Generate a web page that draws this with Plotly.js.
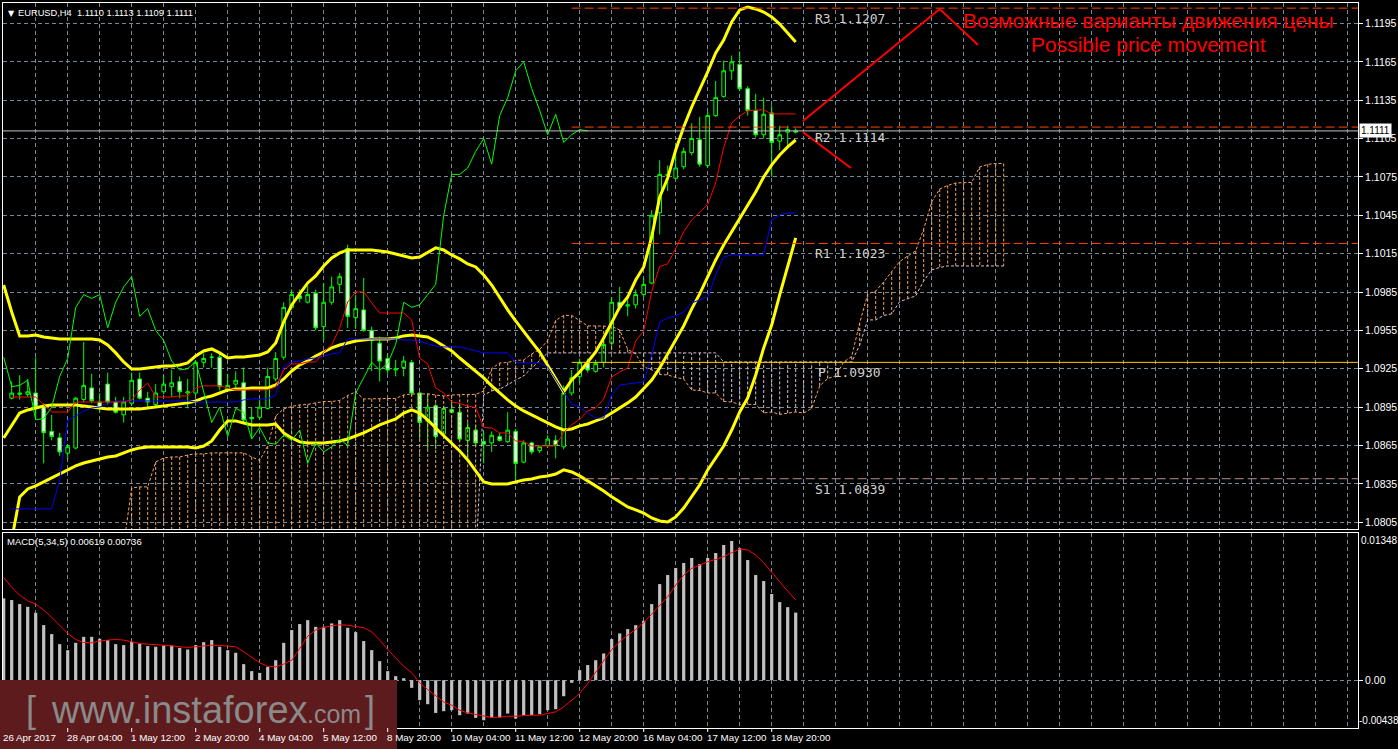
<!DOCTYPE html>
<html><head><meta charset="utf-8">
<script src="https://cdn.plot.ly/plotly-3.0.1.min.js"></script>
<style>html,body{margin:0;padding:0;background:#000;overflow:hidden}#chart{width:1398px;height:749px}</style>
</head><body><div id="chart"></div>
<script>
// ---------- DATA ----------
const tickIdx = [-1,7,15,23,31,39,47,55,63,71,79,87,95];
const tickLabels = ['26 Apr 2017','28 Apr 04:00','1 May 12:00','2 May 20:00','4 May 04:00','5 May 12:00','8 May 20:00','10 May 04:00','11 May 12:00','12 May 20:00','16 May 04:00','17 May 12:00','18 May 20:00'];
const priceTicks = [1.0805,1.0835,1.0865,1.0895,1.0925,1.0955,1.0985,1.1015,1.1045,1.1075,1.1105,1.1135,1.1165,1.1195];

// EURUSD H4 candles, bar 0 = 27 Apr 00:00
const open = [1.0902,1.0905,1.0905,1.0906,1.0895,1.0876,1.0871,1.0859,1.0863,1.0901,
1.0910,1.0899,1.0913,1.0899,1.0889,1.0898,1.0917,1.0902,1.0897,1.0907,
1.0911,1.0915,1.0906,1.0906,1.0930,1.0934,1.0934,1.0909,1.0913,1.0914,
1.0887,1.0887,1.0894,1.0917,1.0934,1.0973,1.0982,1.0977,1.0984,1.0958,
1.0977,1.0991,1.1019,1.0965,1.0971,1.0955,1.0945,1.0933,1.0924,1.0926,
1.0930,1.0906,1.0884,1.0896,1.0874,1.0893,1.0891,1.0869,1.0877,1.0868,
1.0867,1.0872,1.0868,1.0876,1.0852,1.0867,1.0861,1.0865,1.0869,1.0864,
1.0906,1.0919,1.0930,1.0923,1.0930,1.0945,1.0977,1.0974,1.0975,1.0983,
1.0992,1.1047,1.1076,1.1074,1.1083,1.1094,1.1104,1.1084,1.1123,1.1138,
1.1158,1.1163,1.1144,1.1127,1.1108,1.1125,1.1103,1.1110,1.1110];
const high = [1.0915,1.0920,1.0917,1.0934,1.0898,1.0889,1.0875,1.0866,1.0903,1.0946,
1.0921,1.0906,1.0922,1.0903,1.0903,1.0922,1.0922,1.0907,1.0913,1.0920,
1.0924,1.0919,1.0917,1.0931,1.0937,1.0937,1.0938,1.0921,1.0923,1.0926,
1.0895,1.0901,1.0926,1.0938,1.0977,1.0987,1.0987,1.0990,1.0987,1.0992,
1.0997,1.1000,1.1022,1.0983,1.0996,1.0958,1.0950,1.0937,1.0932,1.0935,
1.0932,1.0907,1.0906,1.0898,1.0896,1.0899,1.0898,1.0883,1.0881,1.0876,
1.0876,1.0875,1.0891,1.0878,1.0869,1.0868,1.0865,1.0873,1.0873,1.0912,
1.0924,1.0933,1.0933,1.0932,1.0947,1.0981,1.0989,1.0981,1.0987,1.0996,
1.1049,1.1088,1.1084,1.1095,1.1098,1.1117,1.1122,1.1126,1.1150,1.1166,
1.1170,1.1173,1.1146,1.1140,1.1137,1.1131,1.1115,1.1115,1.1113];
const low = [1.0901,1.0901,1.0903,1.0886,1.0851,1.0869,1.0857,1.0854,1.0862,1.0899,
1.0898,1.0891,1.0897,1.0890,1.0883,1.0896,1.0901,1.0894,1.0895,1.0905,
1.0903,1.0902,1.0894,1.0904,1.0926,1.0926,1.0908,1.0907,1.0910,1.0883,
1.0871,1.0885,1.0893,1.0915,1.0932,1.0971,1.0977,1.0976,1.0955,1.0947,
1.0975,1.0984,1.0957,1.0957,1.0954,1.0923,1.0915,1.0921,1.0919,1.0919,
1.0904,1.0871,1.0862,1.0862,1.0872,1.0890,1.0868,1.0853,1.0864,1.0851,
1.0860,1.0868,1.0867,1.0838,1.0851,1.0858,1.0859,1.0863,1.0855,1.0862,
1.0904,1.0914,1.0922,1.0922,1.0926,1.0943,1.0971,1.0966,1.0972,1.0981,
1.0991,1.1030,1.1064,1.1073,1.1081,1.1092,1.1083,1.1082,1.1122,1.1137,
1.1151,1.1142,1.1123,1.1106,1.1105,1.1075,1.1096,1.1099,1.1109];
const close = [1.0906,1.0906,1.0907,1.0895,1.0875,1.0872,1.0860,1.0864,1.0902,1.0912,
1.0900,1.0894,1.0899,1.0891,1.0899,1.0916,1.0902,1.0899,1.0906,1.0913,
1.0914,1.0907,1.0907,1.0930,1.0933,1.0934,1.0911,1.0912,1.0916,1.0885,
1.0886,1.0895,1.0919,1.0933,1.0973,1.0983,1.0980,1.0983,1.0957,1.0977,
1.0989,1.0997,1.0966,1.0972,1.0955,1.0947,1.0931,1.0924,1.0925,1.0931,
1.0906,1.0883,1.0895,1.0872,1.0894,1.0891,1.0870,1.0879,1.0867,1.0866,
1.0873,1.0869,1.0877,1.0851,1.0867,1.0860,1.0864,1.0870,1.0865,1.0906,
1.0918,1.0930,1.0924,1.0929,1.0944,1.0977,1.0973,1.0975,1.0983,1.0991,
1.1045,1.1077,1.1077,1.1082,1.1095,1.1105,1.1085,1.1123,1.1137,1.1158,
1.1165,1.1144,1.1127,1.1108,1.1124,1.1102,1.1108,1.1112,1.1111];

// Bollinger Bands, starting at bar -1
const bbUpper = [1.09905,1.09694,1.09507,1.09507,1.09514,1.09499,1.09491,1.09483,1.09483,1.09483,
1.09483,1.09483,1.09475,1.09436,1.09374,1.09303,1.09248,1.09248,1.09256,1.09264,
1.09272,1.09272,1.09280,1.09295,1.09350,1.09389,1.09405,1.09374,1.09334,1.09342,
1.09342,1.09350,1.09358,1.09381,1.09452,1.09616,1.09749,1.09835,1.09921,1.09976,
1.10054,1.10116,1.10156,1.10179,1.10179,1.10179,1.10179,1.10171,1.10163,1.10148,
1.10132,1.10116,1.10124,1.10163,1.10195,1.10179,1.10140,1.10109,1.10070,1.10046,
1.09984,1.09905,1.09804,1.09710,1.09624,1.09538,1.09460,1.09381,1.09280,1.09178,
1.09069,1.09162,1.09225,1.09303,1.09381,1.09491,1.09608,1.09733,1.09811,1.09944,
1.10046,1.10281,1.10593,1.10742,1.10961,1.11141,1.11297,1.11430,1.11571,1.11720,
1.11821,1.11962,1.12056,1.12079,1.12064,1.12040,1.12001,1.11946,1.11876,1.11806];
const bbMiddle = [1.08709,1.08811,1.08904,1.08928,1.08943,1.08959,1.08967,1.08967,1.08967,1.08967,
1.08959,1.08951,1.08943,1.08936,1.08936,1.08936,1.08936,1.08936,1.08943,1.08951,
1.08959,1.08967,1.08975,1.08983,1.08998,1.09022,1.09037,1.09061,1.09084,1.09092,
1.09092,1.09100,1.09100,1.09100,1.09123,1.09170,1.09233,1.09280,1.09311,1.09350,
1.09381,1.09413,1.09436,1.09452,1.09467,1.09475,1.09483,1.09483,1.09483,1.09491,
1.09507,1.09514,1.09507,1.09499,1.09467,1.09428,1.09389,1.09334,1.09280,1.09233,
1.09178,1.09116,1.09061,1.09006,1.08959,1.08920,1.08889,1.08857,1.08826,1.08795,
1.08771,1.08779,1.08803,1.08818,1.08842,1.08865,1.08904,1.08943,1.08983,1.09029,
1.09092,1.09162,1.09256,1.09366,1.09475,1.09585,1.09718,1.09835,1.09968,1.10101,
1.10218,1.10320,1.10421,1.10531,1.10633,1.10750,1.10844,1.10922,1.10985,1.11039];
const bbLower = [1.07755,1.07911,1.08248,1.08310,1.08334,1.08365,1.08396,1.08427,1.08459,1.08490,
1.08513,1.08529,1.08545,1.08560,1.08568,1.08592,1.08615,1.08631,1.08638,1.08638,
1.08638,1.08638,1.08638,1.08638,1.08631,1.08646,1.08685,1.08771,1.08842,1.08842,
1.08826,1.08811,1.08811,1.08811,1.08818,1.08748,1.08709,1.08678,1.08670,1.08670,
1.08670,1.08678,1.08685,1.08701,1.08725,1.08748,1.08779,1.08811,1.08834,1.08857,
1.08904,1.08928,1.08904,1.08850,1.08787,1.08725,1.08670,1.08607,1.08537,1.08451,
1.08365,1.08349,1.08349,1.08349,1.08365,1.08380,1.08388,1.08404,1.08412,1.08427,
1.08459,1.08443,1.08412,1.08373,1.08334,1.08294,1.08248,1.08208,1.08169,1.08146,
1.08122,1.08083,1.08060,1.08052,1.08091,1.08161,1.08248,1.08341,1.08459,1.08552,
1.08646,1.08771,1.08912,1.09022,1.09201,1.09413,1.09592,1.09827,1.10054,1.10273];

// Ichimoku, starting at bar 0
const tenkan = [1.09029,1.09029,1.09029,1.09029,1.08967,1.08912,1.08912,1.08912,1.08990,1.08990,
1.08990,1.08990,1.08990,1.08990,1.08990,1.09006,1.09084,1.09139,1.09029,1.09029,
1.09029,1.09037,1.09037,1.09100,1.09116,1.09116,1.09116,1.09100,1.09084,1.09084,
1.09084,1.09084,1.09084,1.09108,1.09241,1.09288,1.09288,1.09303,1.09303,1.09381,
1.09436,1.09569,1.09772,1.09851,1.09851,1.09765,1.09686,1.09686,1.09686,1.09686,
1.09632,1.09334,1.09288,1.09100,1.09061,1.08990,1.08979,1.08959,1.08947,1.08791,
1.08787,1.08748,1.08748,1.08685,1.08681,1.08646,1.08646,1.08646,1.08646,1.08752,
1.08811,1.08857,1.08920,1.08943,1.09014,1.09186,1.09225,1.09256,1.09467,1.09546,
1.09854,1.10050,1.10070,1.10191,1.10320,1.10414,1.10471,1.10535,1.10703,1.10981,
1.11172,1.11227,1.11266,1.11274,1.11274,1.11243,1.11243,1.11243,1.11243];
const kijun = [1.08154,1.08154,1.08154,1.08154,1.08154,1.08154,1.08380,1.08850,1.08881,1.08920,
1.08943,1.08951,1.08975,1.08998,1.08998,1.08998,1.08998,1.08998,1.08998,1.08998,
1.08998,1.08998,1.08998,1.08990,1.08990,1.08990,1.08990,1.08990,1.08990,1.09006,
1.09014,1.09014,1.09014,1.09045,1.09264,1.09303,1.09311,1.09327,1.09334,1.09350,
1.09366,1.09374,1.09483,1.09483,1.09483,1.09483,1.09483,1.09483,1.09483,1.09475,
1.09475,1.09467,1.09444,1.09428,1.09421,1.09421,1.09421,1.09405,1.09389,1.09374,
1.09374,1.09374,1.09374,1.09303,1.09295,1.09295,1.09295,1.09264,1.09162,1.09069,
1.08975,1.08951,1.08904,1.08865,1.08865,1.09045,1.09123,1.09131,1.09139,1.09147,
1.09358,1.09616,1.09647,1.09663,1.09694,1.09765,1.09788,1.09811,1.09984,1.10124,
1.10140,1.10140,1.10140,1.10140,1.10140,1.10414,1.10453,1.10468,1.10468];
// Senkou spans, starting at bar 14 (drawn 26 bars ahead)
const senkouA = [1.07872,1.08318,1.08326,1.08326,1.08521,1.08552,1.08560,1.08560,1.08576,1.08584,
1.08584,1.08592,1.08592,1.08592,1.08592,1.08592,1.08560,1.08533,1.08646,1.08881,
1.08936,1.08955,1.08967,1.08971,1.08983,1.08994,1.08994,1.09002,1.09041,1.09069,
1.09014,1.09014,1.09014,1.09018,1.09018,1.09045,1.09053,1.09053,1.09053,1.09045,
1.09037,1.09045,1.09049,1.09049,1.09049,1.09076,1.09252,1.09295,1.09299,1.09315,
1.09319,1.09366,1.09401,1.09471,1.09628,1.09667,1.09667,1.09624,1.09585,1.09585,
1.09585,1.09581,1.09553,1.09401,1.09366,1.09264,1.09241,1.09205,1.09202,1.09182,
1.09170,1.09084,1.09080,1.09061,1.09061,1.08994,1.08990,1.08971,1.08971,1.08971,
1.08904,1.08912,1.08893,1.08904,1.08912,1.08904,1.08940,1.09116,1.09174,1.09194,
1.09303,1.09346,1.09608,1.09835,1.09858,1.09929,1.10007,1.10089,1.10132,1.10171,
1.10343,1.10554,1.10656,1.10683,1.10703,1.10707,1.10707,1.10828,1.10848,1.10855,
1.10855];
const senkouB = [1.07720,1.07720,1.07720,1.07720,1.07720,1.07720,1.07720,1.07720,1.07720,1.07720,
1.07720,1.07720,1.07720,1.07720,1.07720,1.07720,1.07720,1.07720,1.07720,1.07720,
1.07720,1.07720,1.07720,1.07720,1.07720,1.07720,1.07720,1.07720,1.07720,1.07720,
1.07720,1.07720,1.07720,1.07720,1.07720,1.07720,1.07720,1.07720,1.07720,1.07720,
1.07720,1.07720,1.07720,1.07720,1.07720,1.09045,1.09076,1.09092,1.09123,1.09162,
1.09194,1.09256,1.09319,1.09374,1.09374,1.09374,1.09374,1.09374,1.09374,1.09374,
1.09374,1.09374,1.09374,1.09374,1.09374,1.09374,1.09374,1.09374,1.09374,1.09374,
1.09374,1.09374,1.09374,1.09374,1.09374,1.09303,1.09303,1.09303,1.09303,1.09303,
1.09303,1.09303,1.09303,1.09303,1.09303,1.09303,1.09303,1.09303,1.09303,1.09303,
1.09303,1.09303,1.09436,1.09632,1.09632,1.09667,1.09679,1.09775,1.09798,1.09819,
1.09937,1.10023,1.10042,1.10054,1.10054,1.10054,1.10054,1.10054,1.10054,1.10054,
1.10054];

// MACD(5,34,5), starting at bar -1
const macdHist = [0.00749,0.00734,0.00697,0.00672,0.00617,0.00504,0.00422,0.00330,0.00275,0.00342,
0.00397,0.00397,0.00379,0.00367,0.00330,0.00321,0.00352,0.00336,0.00312,0.00306,
0.00318,0.00318,0.00296,0.00281,0.00321,0.00348,0.00367,0.00306,0.00275,0.00251,
0.00147,0.00083,0.00067,0.00122,0.00183,0.00342,0.00459,0.00514,0.00550,0.00489,
0.00489,0.00520,0.00550,0.00480,0.00440,0.00358,0.00275,0.00174,0.00083,0.00037,
0.00018,-0.00070,-0.00183,-0.00220,-0.00300,-0.00284,-0.00275,-0.00321,-0.00306,-0.00345,
-0.00367,-0.00342,-0.00342,-0.00306,-0.00352,-0.00321,-0.00321,-0.00312,-0.00275,-0.00266,
-0.00147,-0.00024,0.00092,0.00138,0.00183,0.00245,0.00376,0.00428,0.00468,0.00504,
0.00544,0.00697,0.00880,0.00963,0.01027,0.01073,0.01119,0.01064,0.01119,0.01165,
0.01238,0.01275,0.01210,0.01100,0.00963,0.00908,0.00789,0.00715,0.00669,0.00619];
const macdSignal = [0.00941,0.00850,0.00779,0.00727,0.00697,0.00642,0.00575,0.00504,0.00428,0.00373,
0.00345,0.00342,0.00358,0.00367,0.00373,0.00367,0.00348,0.00336,0.00330,0.00327,
0.00321,0.00315,0.00306,0.00300,0.00306,0.00315,0.00321,0.00318,0.00315,0.00306,
0.00260,0.00208,0.00159,0.00128,0.00122,0.00147,0.00183,0.00290,0.00403,0.00459,
0.00483,0.00498,0.00507,0.00504,0.00495,0.00480,0.00443,0.00367,0.00281,0.00205,
0.00128,0.00067,-0.00024,-0.00086,-0.00141,-0.00199,-0.00229,-0.00275,-0.00300,-0.00312,
-0.00330,-0.00342,-0.00339,-0.00330,-0.00330,-0.00324,-0.00321,-0.00321,-0.00306,-0.00290,
-0.00245,-0.00183,-0.00122,-0.00031,0.00076,0.00183,0.00281,0.00352,0.00413,0.00465,
0.00526,0.00605,0.00688,0.00764,0.00871,0.00963,0.01024,0.01055,0.01085,0.01106,
0.01131,0.01168,0.01201,0.01192,0.01146,0.01076,0.00993,0.00902,0.00816,0.00736];

// Pivot levels
const pivotNames = ['R3','R2','R1','P','S1'];
const pivotValues = [1.1207,1.1114,1.1023,1.0930,1.0839];
const pivotStartBar = 70;
const lastPrice = 1.1111;

// Hand-drawn "possible movement" path (bar index, price)
const moveUpBars = [98.9,116.0,120.8];
const moveUpPrices = [1.11188,1.12063,1.11782];
const moveDownBars = [98.9,104.9];
const moveDownPrices = [1.11101,1.10820];

// ---------- BUILD ----------
const barX = open.map((_, i) => i);
const fromMinus1 = bbUpper.map((_, i) => i - 1);
const cloudX = senkouA.map((_, i) => i + 14);
const chikouX = [], chikouY = [];
for (let i = 25; i < close.length; i++) { chikouX.push(i - 26); chikouY.push(close[i]); }

const hatchA = {x: [], y: []}, hatchB = {x: [], y: []};
cloudX.forEach((k, i) => {
  const a = senkouA[i], b = senkouB[i];
  const t = a >= b ? hatchA : hatchB;
  t.x.push(k, k, null); t.y.push(a, b, null);
});

const XR = [-1.0875, 168.2875];
const SANDY = '#F4A460', THISTLE = '#D8BFD8';
const traces = [];
traces.push({type:'scatter', mode:'lines', x:hatchA.x, y:hatchA.y, line:{color:SANDY, width:1, dash:'3px,2px'}, hoverinfo:'skip'});
traces.push({type:'scatter', mode:'lines', x:hatchB.x, y:hatchB.y, line:{color:THISTLE, width:1, dash:'3px,2px'}, hoverinfo:'skip'});
traces.push({type:'scatter', mode:'lines', x:cloudX, y:senkouA, line:{color:SANDY, width:1, dash:'3px,2px'}, hoverinfo:'skip'});
traces.push({type:'scatter', mode:'lines', x:cloudX, y:senkouB, line:{color:THISTLE, width:1, dash:'3px,2px'}, hoverinfo:'skip'});
traces.push({type:'candlestick', x:barX, open:open, high:high, low:low, close:close,
  increasing:{line:{color:'#00FF00', width:1}, fillcolor:'#000000'},
  decreasing:{line:{color:'#00FF00', width:1}, fillcolor:'#FFFFFF'},
  whiskerwidth:0, hoverinfo:'skip'});
[bbUpper, bbMiddle, bbLower].forEach(s => traces.push({type:'scatter', mode:'lines', x:fromMinus1, y:s, line:{color:'#FFFF00', width:3}, hoverinfo:'skip'}));
traces.push({type:'scatter', mode:'lines', x:barX, y:kijun, line:{color:'#0000FF', width:1}, hoverinfo:'skip'});
traces.push({type:'scatter', mode:'lines', x:barX, y:tenkan, line:{color:'#FF0000', width:1}, hoverinfo:'skip'});
traces.push({type:'scatter', mode:'lines', x:chikouX, y:chikouY, line:{color:'#00FF00', width:1}, hoverinfo:'skip'});
// bid line
traces.push({type:'scatter', mode:'lines', x:[XR[0]-1, XR[1]+1], y:[lastPrice,lastPrice], line:{color:'#C0C0C0', width:1}, hoverinfo:'skip'});
// pivots
const pivotColors = ['#FF4500','#FF4500','#FF4500','#FFC800','#BC8F8F'];
pivotValues.forEach((v, i) => traces.push({type:'scatter', mode:'lines', x:[pivotStartBar, XR[1]+1], y:[v, v],
  line:{color:pivotColors[i], width:1, dash: pivotNames[i]==='P' ? 'solid' : '9px,4px'}, hoverinfo:'skip'}));
// movement lines
traces.push({type:'scatter', mode:'lines', x:moveUpBars, y:moveUpPrices, line:{color:'#FF0000', width:2}, hoverinfo:'skip'});
traces.push({type:'scatter', mode:'lines', x:moveDownBars, y:moveDownPrices, line:{color:'#FF0000', width:2}, hoverinfo:'skip'});
// MACD
traces.push({type:'bar', x:fromMinus1, y:macdHist, xaxis:'x2', yaxis:'y2', marker:{color:'#C0C0C0', line:{width:0}}, width:0.4, hoverinfo:'skip'});
traces.push({type:'scatter', mode:'lines', x:fromMinus1, y:macdSignal, xaxis:'x2', yaxis:'y2', line:{color:'#FF0000', width:1}, hoverinfo:'skip'});

const GRID = '#778899', GD = '4px,3px';
const FONT = 'Liberation Sans, Arial, sans-serif';
const px = x => (x - 3) / 1355;
const py = y => (728 - y) / 725;

const ann = [];
ann.push({xref:'paper', yref:'paper', x:px(6), y:1, xanchor:'left', yanchor:'top', yshift:-4, text:'▼', showarrow:false, font:{size:8, color:'#fff', family:'DejaVu Sans'}});
ann.push({xref:'paper', yref:'paper', x:px(16), y:1, xanchor:'left', yanchor:'top', yshift:-3, text:'EURUSD,H4\u00a0\u00a01.1110 1.1113 1.1109 1.1111', showarrow:false, font:{size:9.3, color:'#fff', family:FONT}});
ann.push({xref:'paper', yref:'y2 domain', x:px(5), y:1, xanchor:'left', yanchor:'top', yshift:-1, text:'MACD(5,34,5) 0.00619 0.00736', showarrow:false, font:{size:9.5, color:'#fff', family:FONT}});
pivotNames.forEach((n, i) => ann.push({xref:'paper', yref:'y', x:px(n==='P'?816:813), y:pivotValues[i], xanchor:'left', yanchor:'top', yshift:-1,
  text: n + ' ' + pivotValues[i].toFixed(4), showarrow:false, font:{size:13, color:'#D0D0D0', family:'DejaVu Sans Mono, monospace'}}));
ann.push({xref:'paper', yref:'paper', x:px(1148), y:py(20), xanchor:'center', yanchor:'middle', text:'Возможные варианты движения цены', showarrow:false, font:{size:21, color:'#FF0000', family:FONT}});
ann.push({xref:'paper', yref:'paper', x:px(1148), y:py(44), xanchor:'center', yanchor:'middle', text:'Possible price movement', showarrow:false, font:{size:21, color:'#FF0000', family:FONT}});
// watermark
ann.push({xref:'paper', yref:'paper', x:px(31), y:py(709), xanchor:'center', yanchor:'middle', text:'[', showarrow:false, font:{size:36, color:'#8A8A8A', family:FONT}});
ann.push({xref:'paper', yref:'paper', x:px(49), y:py(710), xanchor:'left', yanchor:'middle', text:'www.instaforex', showarrow:false, font:{size:38, color:'#8A8A8A', family:FONT}});
ann.push({xref:'paper', yref:'paper', x:px(305), y:py(714), xanchor:'left', yanchor:'middle', text:'.com', showarrow:false, font:{size:25, color:'#8A8A8A', family:FONT}});
ann.push({xref:'paper', yref:'paper', x:px(370), y:py(709), xanchor:'center', yanchor:'middle', text:']', showarrow:false, font:{size:36, color:'#8A8A8A', family:FONT}});
// x labels
tickIdx.forEach((k, i) => ann.push({xref:'x2', yref:'paper', x:k, y:0, xanchor:'left', yanchor:'top', xshift:-3, yshift:-2,
  text:tickLabels[i], showarrow:false, font:{size:9.8, color:'#fff', family:FONT}}));
// MACD scale labels
ann.push({xref:'paper', yref:'y2 domain', x:1, y:1, xanchor:'left', yanchor:'top', xshift:1, text:'0.01348', showarrow:false, font:{size:10, color:'#fff', family:FONT}});
ann.push({xref:'paper', yref:'y2 domain', x:1, y:0, xanchor:'left', yanchor:'bottom', xshift:-1, text:'-0.00438', showarrow:false, font:{size:10, color:'#fff', family:FONT}});
// last price label
ann.push({xref:'paper', yref:'y', x:1, y:lastPrice, xanchor:'left', yanchor:'middle', xshift:1, text:lastPrice.toFixed(4), showarrow:false, bgcolor:'#FFFFFF', borderpad:1, font:{size:10, color:'#000', family:FONT}});

const shapes = [];
shapes.push({type:'rect', xref:'paper', yref:'paper', x0:px(0), x1:px(397), y0:py(749), y1:py(680), fillcolor:'#5E1B1D', line:{width:0}, layer:'above'});
tickIdx.slice(1).forEach(k => shapes.push({type:'line', xref:'x2', yref:'paper', x0:k, x1:k, ysizemode:'pixel', yanchor:0, y0:0, y1:-4, line:{color:'#fff', width:1}}));

const layout = {
  width:1398, height:749, paper_bgcolor:'#000', plot_bgcolor:'#000',
  margin:{l:3, r:40, t:3, b:21}, showlegend:false, boxgap:0.35,
  font:{family:FONT, color:'#fff', size:10.5},
  xaxis:{domain:[0,1], anchor:'y', range:XR, tickmode:'linear', tick0:3, dtick:4, showticklabels:false, ticks:'',
    showgrid:true, gridcolor:GRID, griddash:GD, gridwidth:1, zeroline:false, showline:true, linecolor:'#fff', linewidth:1, mirror:true,
    rangeslider:{visible:false}, fixedrange:true},
  xaxis2:{domain:[0,1], anchor:'y2', range:XR, matches:'x', tickmode:'linear', tick0:3, dtick:4, showticklabels:false, ticks:'',
    showgrid:true, gridcolor:GRID, griddash:GD, gridwidth:1, zeroline:false, showline:true, linecolor:'#fff', linewidth:1, mirror:true, fixedrange:true},
  yaxis:{domain:[0.27448,1], anchor:'x', side:'right', range:[1.079968,1.121103], tickmode:'array', tickvals:priceTicks,
    ticktext:priceTicks.map(v => v.toFixed(4)), ticks:'outside', ticklen:4, tickcolor:'#fff',
    showgrid:true, gridcolor:GRID, griddash:GD, gridwidth:1, zeroline:false, showline:true, linecolor:'#fff', linewidth:1, mirror:true,
    tickfont:{size:10.5, color:'#fff', family:FONT}, fixedrange:true},
  yaxis2:{domain:[0,0.26897], anchor:'x2', side:'right', range:[-0.00438,0.01348], tickmode:'array', tickvals:[0], ticktext:['0.00'],
    ticks:'outside', ticklen:4, tickcolor:'#fff', showgrid:true, gridcolor:GRID, griddash:GD, zeroline:false,
    showline:true, linecolor:'#fff', linewidth:1, mirror:true, tickfont:{size:10.5, color:'#fff', family:FONT}, fixedrange:true},
  annotations:ann, shapes:shapes
};

Plotly.newPlot('chart', traces, layout, {displayModeBar:false, staticPlot:true});
</script></body></html>
